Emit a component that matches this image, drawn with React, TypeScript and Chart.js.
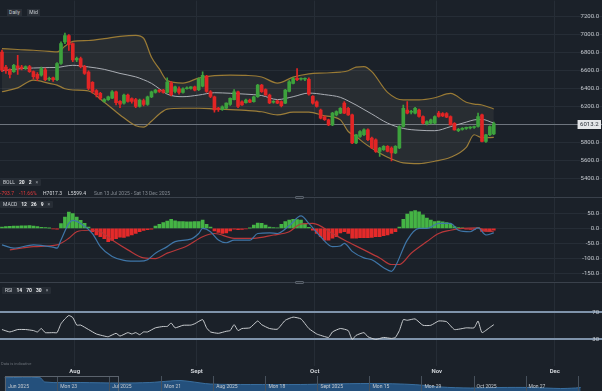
import React, { useEffect, useRef } from 'react';
import { Chart, registerables } from 'chart.js';

Chart.register(...registerables);

const FONT = 'Roboto, "DejaVu Sans", sans-serif';
const BG = '#1b2129';
const GRID = '#262d36';
const AXIS_TXT = '#c3c7cd';
const UP = '#3da23d';
const DOWN = '#e22525';
const H_UP = '#45b445';
const H_DOWN = '#e42a2a';
const GOLD = '#9a7b35';
const MIDC = '#a9adb3';
const BAND_FILL = 'rgba(200,190,170,0.08)';

// x axis: days since Sun 13 Jul 2025 (range ends Sat 13 Dec 2025)
const X_MIN = 0;
const X_MAX = 153;
const monthStarts = [19, 50, 80, 111, 141];
const monthLabels = ['Aug', 'Sept', 'Oct', 'Nov', 'Dec'];

// Daily OHLC, one per calendar day from 13 Jul 2025
const openP = [6807,6640,6610,6590,6655,6640,6625,6645,6590,6560,6551,6610,6505,6520,6500,6680,6920,6990,6900,6720,6735,6645,6585,6470,6380,6350,6260,6280,6295,6365,6260,6240,6330,6290,6280,6205,6270,6225,6310,6360,6385,6385,6360,6465,6370,6400,6360,6400,6405,6420,6390,6430,6540,6365,6310,6185,6168,6185,6225,6280,6365,6255,6245,6275,6258,6312,6440,6390,6330,6250,6265,6258,6240,6370,6460,6515,6505,6505,6505,6315,6255,6165,6090,6055,6000,6110,6130,6240,6184,6110,5800,5871,5890,5945,5853,5835,5706,5725,5761,5743,5688,5743,5982,6165,6140,6129,6165,6092,6011,6018,6018,6129,6125,6125,6092,6018,5935,5950,5960,5965,5970,5982,6110,5816,5890,5900];
const highP = [6830,6660,6620,6670,6770,6660,6655,6660,6600,6580,6640,6630,6530,6530,6690,6920,7017.3,7000,6910,6750,6750,6660,6600,6480,6390,6360,6290,6320,6380,6375,6270,6340,6340,6300,6295,6285,6285,6320,6375,6395,6395,6395,6520,6480,6430,6420,6410,6420,6425,6430,6520,6588,6550,6380,6320,6195,6210,6245,6300,6390,6375,6265,6285,6285,6320,6450,6450,6400,6340,6270,6275,6265,6395,6490,6525,6625,6520,6520,6520,6325,6265,6175,6100,6065,6140,6155,6190,6257,6195,6120,5895,5935,5955,5955,5865,5845,5750,5770,5770,5755,5770,5990,6220,6257,6160,6195,6175,6100,6045,6065,6100,6150,6135,6135,6100,6025,5960,5970,5975,5980,5985,6130,6120,5895,5990,6030];
const lowP = [6590,6570,6520,6580,6560,6610,6615,6580,6510,6490,6540,6490,6490,6480,6490,6670,6900,6826,6700,6700,6630,6560,6390,6350,6310,6280,6250,6270,6290,6220,6190,6230,6250,6240,6190,6195,6210,6215,6300,6350,6360,6350,6350,6320,6355,6340,6350,6395,6395,6375,6380,6420,6360,6300,6140,6150,6160,6180,6215,6275,6190,6215,6240,6245,6250,6305,6360,6325,6235,6240,6235,6200,6235,6365,6455,6490,6495,6490,6330,6230,6195,6065,6050,5990,5990,6100,6125,6125,6105,5790,5790,5860,5880,5825,5735,5695,5650,5715,5700,5599.4,5680,5735,5975,6120,6120,6120,6085,6010,6000,6010,6010,6085,6090,6080,5995,5940,5925,5940,5950,5955,5960,5975,5810,5805,5880,5890];
const closeP = [6606,6600,6560,6660,6630,6625,6645,6590,6535,6515,6625,6500,6515,6500,6680,6900,6990,6890,6720,6738,6645,6570,6405,6370,6335,6295,6280,6310,6365,6245,6230,6330,6260,6260,6205,6275,6225,6310,6365,6385,6370,6360,6475,6335,6420,6360,6400,6410,6420,6385,6510,6550,6370,6315,6165,6170,6200,6240,6295,6365,6205,6222,6275,6250,6310,6440,6368,6332,6242,6260,6240,6212,6386,6478,6514,6500,6510,6515,6340,6240,6205,6075,6058,6000,6130,6147,6184,6130,6110,5800,5890,5926,5945,5835,5743,5706,5743,5761,5706,5688,5761,5982,6184,6129,6150,6184,6092,6018,6037,6055,6092,6092,6100,6085,6000,5945,5950,5960,5965,5970,5975,6092,5816,5890,5982,6013.2];
const LAST_PRICE = 6013.2;

// Bollinger (20, 2) read at sample days
const bandDays = [0,4,8,12,14,16,18,22,26,30,34,36,38,40,42,46,50,54,58,62,66,70,74,78,82,86,88,90,92,94,98,102,106,110,114,118,120,122,125];
const bollUpper = [6845,6835,6827,6815,6808,6870,6925,6935,6955,6981,6992,6960,6750,6620,6490,6463,6518,6545,6551,6548,6530,6463,6529,6565,6575,6585,6600,6640,6645,6590,6360,6276,6276,6300,6349,6250,6230,6220,6176];
const bollMid = [6598,6620,6630,6635,6636,6650,6660,6642,6615,6570,6532,6500,6460,6400,6340,6312,6330,6356,6350,6340,6325,6280,6312,6352,6335,6305,6265,6220,6170,6120,6019,5960,5940,5935,5980,6030,6055,6060,6019];
const bollLower = [6367,6410,6496,6460,6441,6400,6386,6375,6250,6110,5990,5975,6040,6120,6175,6184,6184,6176,6168,6160,6145,6110,6140,6140,6100,6055,5926,5870,5800,5740,5640,5578,5570,5596,5640,5750,5890,5857,5860];

// MACD (12, 26, 9)
const macdHist = [5,6,7,8,8,9,9,10,8,6,4,3,1,-1,-2,16,38,55,50,38,27,17,5,-11,-22,-28,-34,-44,-40,-34,-29,-30,-26,-22,-17,-11,-7,-4,-2,8,14,20,25,31,26,23,23,22,22,23,23,28,14,5,-8,-13,-17,-15,-8,-2,-4,-3,-1,1,11,18,17,11,5,3,2,14,23,28,31,30,28,16,4,-6,-17,-28,-39,-39,-33,-28,-15,-11,-17,-33,-33,-31,-31,-31,-30,-28,-28,-24,-22,-17,-11,5,31,48,57,60,56,46,35,28,23,25,22,20,14,6,3,1,-2,-3,-3,3,-10,-10,-8,-6];
const macdDays = [0,3,8,13,14,15,17,18,20,23,25,28,31,35,37,39,42,44,48,50,51,53,55,57,59,63,65,68,70,73,76,78,81,84,86,87,89,92,94,97,99,100,103,106,108,111,114,116,119,121,123,125];
const macdVals = [-55,-66,-55,-63,-66,-39,17,27,17,-17,-61,-94,-107,-110,-105,-83,-61,-44,-36,-17,0,-11,-39,-48,-39,-39,-17,-15,-17,9,42,17,-28,-61,-59,-50,-77,-99,-105,-132,-144,-127,-39,0,0,17,17,-6,-11,2,-22,-15];
const signalDays = [2,8,14,17,19,22,25,28,32,36,39,42,47,51,54,59,64,69,73,76,79,84,87,92,96,99,101,104,108,111,114,117,121,123,125];
const signalVals = [-72,-61,-55,-33,-11,-6,-11,-39,-72,-99,-101,-83,-59,-28,-17,-33,-33,-22,-11,15,17,-17,-39,-72,-99,-121,-121,-83,-44,-17,-6,0,2,-8,-11];

// RSI (14)
const rsiDays = [0,2,4,6,8,9,10,11,13,14,15,16,17,18,19,20,22,24,26,27,29,30,32,33,34,35,36,37,39,41,42,43,44,46,48,49,51,52,53,55,57,58,59,60,61,63,65,66,68,70,72,74,76,78,80,81,83,84,86,88,89,90,92,93,95,97,99,100,101,102,103,105,107,109,111,113,115,118,120,121,122,124,125];
const rsiVals = [44.5,41,44.5,44.5,43,41,46,40,40,40,53,60,65,62,51,51,44.5,38,35,34,39,35,40,38,40,37,41,41,47,49,49,54,47,50.7,51,53,59,47,41,39,42,43,51.6,43,46,47,57,51.6,46,45,58,62.6,60,46,38,36,33,41,46,43,30,36,40,34,30,33,31.5,33,43,59,58,60,50.7,50.7,57,56,44.5,47,47,57,40,47.6,51.6];

// Navigator
const navTickLabels = ['Jun 2025', 'Mon 23', 'Jul 2025', 'Mon 21', 'Aug 2025', 'Mon 18', 'Sept 2025', 'Mon 15', 'Mon 29', 'Oct 2025', 'Mon 27', ''];
const navPos = [-0.02,0.66,0.75,1.43,2.2,2.77,3.16,3.35,3.54,3.93,4.7,5.66,6.23,7.0,7.58,7.96,8.35,8.93,9.5,10.08,10.66,10.95,11.05];
const navVals = [13.3,13.3,9,8.5,8,8.5,10,10.5,9.5,7,6.5,6.5,7,7.5,7,6,4,3,3.5,3.5,2.5,3,3.5];
const navWindow = [-0.02, 2.16];

const priceTicks = [5400,5600,5800,6000,6200,6400,6600,6800,7000,7200];
const macdTicks = [50,0,-50,-100,-150];
const rsiTicks = [70,30];

function xAxis(showLabels: boolean): any {
  return {
    type: 'linear', min: X_MIN, max: X_MAX, offset: false,
    afterBuildTicks: (s: any) => { s.ticks = monthStarts.map((v) => ({ value: v })); },
    afterFit: (s: any) => { s.height = showLabels ? 10 : 0; },
    grid: { color: GRID, lineWidth: 1, drawTicks: false, offset: false },
    border: { display: false },
    ticks: {
      display: showLabels, color: '#cfd3d8', autoSkip: false, maxRotation: 0, padding: 2,
      font: { size: 6, weight: 'bold', family: FONT },
      callback: (v: any) => monthLabels[monthStarts.indexOf(v)] ?? '',
    },
  };
}

function yAxis(min: number, max: number, ticks: number[], fmt: (v: number) => any, gridOpts?: any): any {
  return {
    type: 'linear', position: 'right', min, max,
    afterBuildTicks: (s: any) => { s.ticks = ticks.map((v) => ({ value: v })); },
    afterFit: (s: any) => { s.width = 0; },
    grid: Object.assign({ color: GRID, drawTicks: false }, gridOpts || {}),
    border: { display: false },
    ticks: { mirror: true, padding: -3, z: 1, color: AXIS_TXT, font: { size: 6, family: FONT }, callback: fmt },
  };
}

const baseOpts: any = {
  responsive: false, animation: false, events: [],
  layout: { padding: 0 },
  plugins: { legend: { display: false }, tooltip: { enabled: false } },
};

const lastPricePlugin = {
  id: 'lastPrice',
  beforeDatasetsDraw(chart: any) {
    const { ctx, chartArea, scales } = chart;
    const y = Math.round(scales.y.getPixelForValue(LAST_PRICE)) + 0.5;
    ctx.save();
    ctx.strokeStyle = '#6e757e';
    ctx.lineWidth = 1;
    ctx.beginPath();
    ctx.moveTo(chartArea.left, y);
    ctx.lineTo(chartArea.right, y);
    ctx.stroke();
    ctx.restore();
  },
  afterDraw(chart: any) {
    const { ctx, chartArea, scales } = chart;
    const y = Math.round(scales.y.getPixelForValue(LAST_PRICE));
    const text = LAST_PRICE.toFixed(1);
    ctx.save();
    ctx.font = '6px ' + FONT;
    const w = ctx.measureText(text).width + 5;
    const x1 = chartArea.right - 1 - w;
    ctx.fillStyle = '#e4e6e9';
    ctx.fillRect(x1, y - 4, w, 9);
    ctx.fillStyle = '#2a3038';
    ctx.textAlign = 'center';
    ctx.textBaseline = 'middle';
    ctx.fillText(text, x1 + w / 2, y + 0.5);
    ctx.restore();
  },
};

const navPlugin = {
  id: 'navExtras',
  afterDraw(chart: any) {
    const { ctx, chartArea, scales } = chart;
    ctx.save();
    // window box
    const xa = Math.round(scales.x.getPixelForValue(navWindow[0])) + 0.5;
    const xb = Math.round(scales.x.getPixelForValue(navWindow[1])) + 0.5;
    ctx.strokeStyle = '#5b636d';
    ctx.lineWidth = 1;
    ctx.strokeRect(xa, chartArea.top + 0.5, xb - xa, chartArea.bottom - chartArea.top);
    // tick labels
    ctx.font = '5px ' + FONT;
    ctx.fillStyle = '#c5c9ce';
    ctx.textAlign = 'left';
    ctx.textBaseline = 'middle';
    navTickLabels.forEach((t, k) => {
      if (t) ctx.fillText(t, scales.x.getPixelForValue(k) + 2.5, chartArea.top + 11);
    });
    ctx.restore();
  },
};

function legendBox(left: number, top: number, items: { t: string; c?: string; b?: boolean }[]) {
  return (
    <div style={{ position: 'absolute', left, top, height: 7, padding: '0 3px', background: '#272d35', display: 'flex', alignItems: 'center', gap: 4, whiteSpace: 'nowrap', borderRadius: 1 }}>
      {items.map((it, k) => (
        <span key={k} style={{ fontSize: 5, lineHeight: '7px', color: it.c || '#cdd1d6', fontWeight: it.b ? 700 : 400 }}>{it.t}</span>
      ))}
    </div>
  );
}

export default function App() {
  const priceRef = useRef<HTMLCanvasElement>(null);
  const macdRef = useRef<HTMLCanvasElement>(null);
  const rsiRef = useRef<HTMLCanvasElement>(null);
  const navRef = useRef<HTMLCanvasElement>(null);

  useEffect(() => {
    Chart.defaults.font.family = FONT;
    const charts: any[] = [];
    const days = closeP.map((_, i) => i + 0.5);
    const candleColor = closeP.map((c, i) => (c >= openP[i] ? UP : DOWN));
    const pts = (ds: number[], vs: number[]) => ds.map((d, k) => ({ x: d + 0.5, y: vs[k] }));

    charts.push(new Chart(priceRef.current as any, {
      type: 'bar',
      data: {
        datasets: [
          { type: 'bar', data: days.map((x, i) => ({ x, y: [openP[i], closeP[i]] })), backgroundColor: candleColor, barThickness: 3, minBarLength: 1, grouped: false, order: 0 } as any,
          { type: 'bar', data: days.map((x, i) => ({ x, y: [lowP[i], highP[i]] })), backgroundColor: candleColor, barThickness: 1, grouped: false, order: 1 } as any,
          { type: 'line', data: pts(bandDays, bollMid), borderColor: MIDC, borderWidth: 1, pointRadius: 0, cubicInterpolationMode: 'monotone', fill: false, order: 2 } as any,
          { type: 'line', data: pts(bandDays, bollUpper), borderColor: GOLD, borderWidth: 1.2, pointRadius: 0, cubicInterpolationMode: 'monotone', fill: '+1', backgroundColor: BAND_FILL, order: 3 } as any,
          { type: 'line', data: pts(bandDays, bollLower), borderColor: GOLD, borderWidth: 1.2, pointRadius: 0, cubicInterpolationMode: 'monotone', fill: false, order: 4 } as any,
        ],
      },
      options: {
        ...baseOpts,
        scales: {
          x: xAxis(false),
          y: yAxis(5206.6, 7377.4, priceTicks, (v: number) => (v === 6000 ? null : v.toFixed(1))),
        },
      },
      plugins: [lastPricePlugin],
    } as any));

    charts.push(new Chart(macdRef.current as any, {
      type: 'bar',
      data: {
        datasets: [
          { type: 'line', data: pts(macdDays, macdVals), borderColor: '#3f76a8', borderWidth: 1.2, pointRadius: 0, cubicInterpolationMode: 'monotone', order: 0 } as any,
          { type: 'line', data: pts(signalDays, signalVals), borderColor: '#b8383a', borderWidth: 1.2, pointRadius: 0, cubicInterpolationMode: 'monotone', order: 1 } as any,
          { type: 'bar', data: days.map((x, i) => ({ x, y: macdHist[i] })), backgroundColor: macdHist.map((v) => (v >= 0 ? H_UP : H_DOWN)), barThickness: 3, grouped: false, order: 2 } as any,
        ],
      },
      options: {
        ...baseOpts,
        scales: {
          x: xAxis(false),
          y: yAxis(-177.8, 103.6, macdTicks, (v: number) => v.toFixed(1)),
        },
      },
    } as any));

    charts.push(new Chart(rsiRef.current as any, {
      type: 'line',
      data: {
        datasets: [
          { data: pts(rsiDays, rsiVals), borderColor: '#c9cccf', borderWidth: 1, pointRadius: 0, tension: 0.15 } as any,
        ],
      },
      options: {
        ...baseOpts,
        scales: {
          x: xAxis(true),
          y: yAxis(-8.7, 113, rsiTicks, (v: number) => String(v), { color: '#7f93aa', lineWidth: 2 }),
        },
      },
    } as any));

    charts.push(new Chart(navRef.current as any, {
      type: 'line',
      data: {
        datasets: [
          { data: navPos.map((x, k) => ({ x, y: navVals[k] })), borderColor: '#3a6f9f', borderWidth: 1, pointRadius: 0, fill: 'origin', backgroundColor: '#24507c', tension: 0.3 } as any,
        ],
      },
      options: {
        ...baseOpts,
        scales: {
          x: {
            type: 'linear', min: -0.11, max: 11.46, offset: false,
            afterBuildTicks: (s: any) => { s.ticks = navTickLabels.map((_, k) => ({ value: k })); },
            afterFit: (s: any) => { s.height = 0; },
            grid: { color: '#47515c', drawTicks: false, offset: false, z: 1 },
            border: { display: false },
            ticks: { display: false },
          },
          y: { display: false, min: 0, max: 15 },
        },
      },
      plugins: [navPlugin],
    } as any));

    return () => charts.forEach((c) => c.destroy());
  }, []);

  const sep = (top: number) => (
    <>
      <div style={{ position: 'absolute', left: 0, top, width: 602, height: 1, background: '#3a414b' }} />
      <div style={{ position: 'absolute', left: 295, top: top - 1.5, width: 9, height: 3, background: '#2b3139', border: '1px solid #59616b', boxSizing: 'border-box', borderRadius: 1 }} />
    </>
  );

  return (
    <div style={{ position: 'fixed', left: 0, top: 0, width: 602, height: 391, background: BG, overflow: 'hidden', fontFamily: FONT }}>
      <canvas ref={priceRef} width={602} height={197} style={{ position: 'absolute', left: 0, top: 0 }} />
      <canvas ref={macdRef} width={602} height={85} style={{ position: 'absolute', left: 0, top: 197 }} />
      <canvas ref={rsiRef} width={602} height={94} style={{ position: 'absolute', left: 0, top: 282 }} />
      <canvas ref={navRef} width={602} height={15} style={{ position: 'absolute', left: 0, top: 376 }} />
      {sep(197)}
      {sep(282)}
      <div style={{ position: 'absolute', left: 7, top: 9, width: 15, height: 7, background: '#2a3038', color: '#c9cdd2', fontSize: 5, lineHeight: '7px', textAlign: 'center' }}>Daily</div>
      <div style={{ position: 'absolute', left: 27, top: 9, width: 13, height: 7, background: '#2a3038', color: '#c9cdd2', fontSize: 5, lineHeight: '7px', textAlign: 'center' }}>Mid</div>
      {legendBox(0, 179, [{ t: 'BOLL' }, { t: '20', b: true, c: '#eceef0' }, { t: '2', b: true, c: '#eceef0' }, { t: '×', c: '#9aa0a7' }])}
      <div style={{ position: 'absolute', left: 0, top: 189.5, height: 7, whiteSpace: 'nowrap', fontSize: 5, lineHeight: '7px' }}>
        <span style={{ position: 'absolute', left: 0, color: '#e2393b' }}>-793.7</span>
        <span style={{ position: 'absolute', left: 19, color: '#e2393b' }}>-11.66%</span>
        <span style={{ position: 'absolute', left: 43, color: '#d8dbdf' }}>H7017.3</span>
        <span style={{ position: 'absolute', left: 68, color: '#d8dbdf' }}>L5599.4</span>
        <span style={{ position: 'absolute', left: 94, color: '#858b93' }}>Sun 13 Jul 2025 - Sat 13 Dec 2025</span>
      </div>
      {legendBox(0, 201, [{ t: 'MACD' }, { t: '12', b: true, c: '#eceef0' }, { t: '26', b: true, c: '#eceef0' }, { t: '9', b: true, c: '#eceef0' }, { t: '×', c: '#9aa0a7' }])}
      {legendBox(2, 287, [{ t: 'RSI' }, { t: '14', b: true, c: '#eceef0' }, { t: '70', b: true, c: '#eceef0' }, { t: '30', b: true, c: '#eceef0' }, { t: '×', c: '#9aa0a7' }])}
      <div style={{ position: 'absolute', left: 1, top: 361, fontSize: 4, lineHeight: '5px', color: '#6a7078', whiteSpace: 'nowrap' }}>Data is indicative</div>
    </div>
  );
}
